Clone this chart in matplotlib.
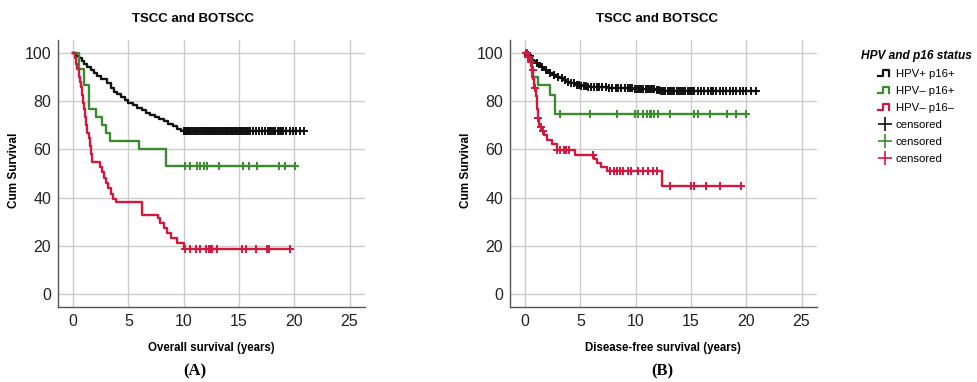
import matplotlib
matplotlib.use("Agg")
import matplotlib.pyplot as plt
import numpy as np
from matplotlib.legend_handler import HandlerBase
from matplotlib.lines import Line2D

plt.rcParams['font.family'] = ['Liberation Sans', 'DejaVu Sans']

# ---- (A) overall survival: step times / survival (%) / censored times ----
os_black_t = [0, 0.3, 0.5, 0.8, 1.0, 1.3, 1.6, 1.9, 2.2, 2.5, 3.1, 3.4, 3.7, 4.0, 4.3, 4.7,
              5.0, 5.4, 5.8, 6.2, 6.6, 7.0, 7.4, 7.8, 8.2, 8.6, 9.0, 9.4, 9.8]
os_black_s = [100, 98.9, 97.8, 96.5, 95.3, 94.0, 92.8, 91.5, 90.3, 89.2, 87.6, 85.5, 84.0,
              82.8, 81.7, 80.5, 79.4, 78.4, 77.3, 76.3, 75.3, 74.4, 73.5, 72.6, 71.6, 70.7,
              69.6, 68.5, 67.7]
os_black_c = [10.0, 10.1, 10.2, 10.3, 10.4, 10.5, 10.6, 10.7, 10.85, 11.0, 11.1, 11.25,
              11.4, 11.55, 11.7, 11.8, 11.9, 12.0, 12.1, 12.2, 12.3, 12.45, 12.6, 12.7,
              12.8, 12.95, 13.1, 13.2, 13.3, 13.45, 13.6, 13.7, 13.8, 13.9, 14.0, 14.15,
              14.3, 14.4, 14.5, 14.6, 14.7, 14.85, 15.0, 15.1, 15.2, 15.3, 15.4, 15.5, 15.6,
              15.7, 15.8, 16.0, 16.3, 16.5, 16.8, 17.1, 17.4, 17.6, 17.8, 17.9, 18.0, 18.2,
              18.3, 18.5, 18.7, 18.8, 19.0, 19.3, 19.6, 19.9, 20.2, 20.5, 20.9]

os_green_t = [0, 0.57, 1.0, 1.42, 2.1, 2.65, 2.95, 3.3, 5.98, 8.42]
os_green_s = [100, 93.3, 86.7, 76.7, 73.3, 70.0, 66.7, 63.3, 60.0, 53.3]
os_green_c = [10.1, 10.6, 11.2, 11.5, 11.8, 12.1, 13.2, 15.4, 15.9, 16.6, 18.6, 19.2, 20.1]

os_red_t = [0, 0.15, 0.3, 0.4, 0.5, 0.6, 0.7, 0.8, 0.9, 1.0, 1.1, 1.2, 1.3, 1.4, 1.5, 1.6,
            1.75, 2.4, 2.6, 2.8, 3.0, 3.2, 3.4, 3.6, 3.9, 6.2, 7.65, 7.9, 8.2, 8.5, 8.9,
            9.4, 10.0]
os_red_s = [100, 97.8, 95.6, 93.4, 90.1, 87.9, 85.7, 82.4, 79.1, 76.9, 73.6, 70.3, 67.0,
            64.8, 61.5, 58.2, 54.9, 52.7, 50.5, 48.3, 46.1, 43.9, 41.7, 39.5, 38.3, 32.8,
            31.4, 29.3, 27.2, 25.3, 23.1, 21.0, 18.7]
os_red_c = [10.1, 10.6, 11.1, 11.5, 12.0, 12.3, 12.4, 12.6, 13.0, 15.3, 15.6, 16.5, 17.5,
            17.7, 19.65]

# ---- (B) disease-free survival ----
dfs_black_t = [0, 0.2, 0.35, 0.5, 0.65, 0.8, 1.0, 1.2, 1.4, 1.6, 1.8, 2.0, 2.3, 2.6, 2.9,
               3.2, 3.5, 3.8, 4.1, 4.5, 5.0, 5.6, 7.5, 9.8, 11.8, 12.2]
dfs_black_s = [100, 99.3, 98.6, 97.9, 97.2, 96.5, 95.8, 95.1, 94.4, 93.7, 93.0, 92.3, 91.6,
               90.9, 90.2, 89.5, 88.8, 88.1, 87.4, 86.9, 86.4, 86.0, 85.6, 85.2, 84.8, 84.4]
dfs_black_c = [0.15, 0.3, 0.45, 1.1, 1.5, 1.9, 2.3, 2.6, 3.0, 3.3, 3.6, 3.9, 4.2, 4.4, 4.7,
               4.9, 5.1, 5.3, 5.5, 5.7, 6.0, 6.2, 6.5, 6.7, 7.0, 7.3, 7.6, 7.9, 8.2, 8.4,
               8.7, 9.0, 9.3, 9.5, 9.7, 9.9, 10.1, 10.3, 10.5, 10.7, 10.9, 11.1, 11.3, 11.5,
               11.7, 11.9, 12.1, 12.3, 12.5, 12.7, 12.9, 13.1, 13.3, 13.5, 13.7, 13.9, 14.1,
               14.3, 14.5, 14.7, 14.9, 15.1, 15.3, 15.6, 15.9, 16.2, 16.5, 16.8, 17.0, 17.3,
               17.6, 17.9, 18.2, 18.5, 18.8, 19.1, 19.4, 19.7, 20.0, 20.4, 20.9]

dfs_green_t = [0, 0.3, 0.6, 1.2, 2.26, 2.75]
dfs_green_s = [100, 97.0, 90.2, 86.6, 82.5, 74.8]
dfs_green_c = [3.2, 5.9, 8.3, 9.9, 10.2, 10.7, 11.0, 11.3, 11.4, 11.7, 12.0, 13.1, 15.3,
               15.6, 16.7, 18.3, 19.1, 20.0]

dfs_red_t = [0, 0.3, 0.45, 0.55, 0.65, 0.75, 0.85, 0.95, 1.05, 1.15, 1.3, 1.5, 1.7, 2.0,
             2.4, 2.9, 4.5, 6.2, 6.5, 6.9, 7.4, 12.4]
dfs_red_s = [100, 98.2, 96.4, 94.6, 92.8, 89.2, 85.6, 82.0, 76.6, 73.0, 69.4, 67.6, 65.8,
             64.0, 62.2, 59.8, 57.7, 56.0, 54.2, 52.9, 51.1, 44.7]
dfs_red_c = [0.1, 0.2, 0.3, 0.4, 0.5, 0.7, 0.9, 1.2, 1.4, 1.6, 2.9, 3.2, 3.5, 3.7, 4.0,
             6.15, 7.7, 8.0, 8.3, 8.6, 8.9, 9.3, 9.6, 10.2, 10.7, 11.1, 11.6, 11.9, 13.1,
             15.0, 15.3, 16.4, 17.6, 19.55]

group_labels = ['HPV+ p16+', 'HPV\u2013 p16+', 'HPV\u2013 p16\u2013']
colors = ['#111111', '#3a8a2e', '#d3173f']


def km_curve(ax, t, s, c, color):
    t = np.asarray(t, float)
    s = np.asarray(s, float)
    c = np.asarray(c, float)
    end = max(t[-1], c.max())
    ax.step(np.append(t, end), np.append(s, s[-1]), where='post', color=color, lw=1.7)
    cy = s[np.searchsorted(t, c, side='right') - 1]
    ax.plot(c, cy, ls='none', marker='+', ms=6, mew=1.4, color=color)


def style_axes(ax):
    ax.set_xlim(-1.36, 26.4)
    ax.set_ylim(-5.4, 105.4)
    ax.set_xticks([0, 5, 10, 15, 20, 25])
    ax.set_yticks([0, 20, 40, 60, 80, 100])
    ax.grid(True, color='#cccccc', lw=1.0)
    ax.set_axisbelow(True)
    for side in ['top', 'right']:
        ax.spines[side].set_visible(False)
    for side in ['left', 'bottom']:
        ax.spines[side].set_color('#555555')
        ax.spines[side].set_linewidth(1.0)
    ax.tick_params(length=0, labelsize=11.5, pad=5, colors='#222222')


class StepHandler(HandlerBase):
    def create_artists(self, legend, orig_handle, xdescent, ydescent, width, height,
                       fontsize, trans):
        xs = np.array([0.0, 0.35, 0.35, 0.8, 0.8]) * width - xdescent
        ys = np.array([0.1, 0.1, 0.85, 0.85, 0.1]) * height - ydescent
        line = Line2D(xs, ys, color=orig_handle.get_color(), lw=1.6)
        line.set_transform(trans)
        return [line]


fig = plt.figure(figsize=(9.77, 3.82), dpi=100)
axA = fig.add_axes([58 / 977, 1 - 307 / 382, 307 / 977, 267 / 382])
axB = fig.add_axes([510 / 977, 1 - 307 / 382, 307 / 977, 267 / 382])

km_curve(axA, os_black_t, os_black_s, os_black_c, colors[0])
km_curve(axA, os_green_t, os_green_s, os_green_c, colors[1])
km_curve(axA, os_red_t, os_red_s, os_red_c, colors[2])
km_curve(axB, dfs_black_t, dfs_black_s, dfs_black_c, colors[0])
km_curve(axB, dfs_green_t, dfs_green_s, dfs_green_c, colors[1])
km_curve(axB, dfs_red_t, dfs_red_s, dfs_red_c, colors[2])

for ax in [axA, axB]:
    style_axes(ax)

# titles, axis labels, panel letters
fig.text(193 / 977, 1 - 19 / 382, 'TSCC and BOTSCC', ha='center', va='center',
         fontsize=9.5, fontweight='bold')
fig.text(657 / 977, 1 - 19 / 382, 'TSCC and BOTSCC', ha='center', va='center',
         fontsize=9.5, fontweight='bold')
fig.text(14 / 977, 1 - 170 / 382, 'Cum Survival', rotation=90, ha='center', va='center',
         fontsize=8.5, fontweight='bold')
fig.text(466 / 977, 1 - 170 / 382, 'Cum Survival', rotation=90, ha='center', va='center',
         fontsize=8.5, fontweight='bold')
fig.text(211 / 977, 1 - 348 / 382, 'Overall survival (years)', ha='center', va='center',
         fontsize=8.3, fontweight='bold')
fig.text(663 / 977, 1 - 348 / 382, 'Disease-free survival (years)', ha='center',
         va='center', fontsize=8.3, fontweight='bold')
fig.text(195 / 977, 1 - 371 / 382, '(A)', ha='center', va='center', fontsize=12,
         fontweight='bold', family='Liberation Serif')
fig.text(662 / 977, 1 - 371 / 382, '(B)', ha='center', va='center', fontsize=12,
         fontweight='bold', family='Liberation Serif')

# legend
line_handles = [Line2D([], [], color=c) for c in colors]
cens_handles = [Line2D([], [], ls='none', marker='+', ms=10, mew=1.2, color=c) for c in colors]
leg = fig.legend(line_handles + cens_handles, group_labels + ['censored'] * 3,
                 handler_map={h: StepHandler() for h in line_handles},
                 loc='upper left', bbox_to_anchor=(853 / 977, 1 - 42 / 382),
                 frameon=False, fontsize=8.2, handlelength=1.2, handletextpad=0.35,
                 labelspacing=0.62, borderpad=0.2,
                 title='HPV and p16 status',
                 title_fontproperties={'weight': 'bold', 'style': 'italic', 'size': 8.6})

fig.savefig('out.png', dpi=100)
